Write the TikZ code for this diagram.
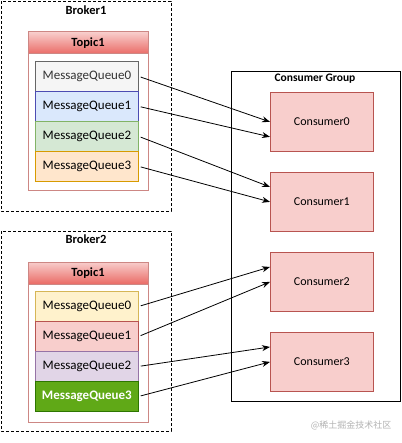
\documentclass[tikz,border=0pt]{standalone}
\usepackage{fontspec}
\setmainfont{Carlito}
\newfontfamily\cjk{Noto Sans CJK SC}
\usetikzlibrary{arrows.meta,calc}
\definecolor{redfill}{HTML}{F8CECC}
\definecolor{redline}{HTML}{B85450}
\definecolor{hdrbot}{HTML}{EA6B66}
\tikzset{
  broker/.style={draw=black, dash pattern=on 3pt off 2pt, line width=0.8pt},
  blabel/.style={font=\bfseries\fontsize{12.5}{14}\selectfont},
  topicbox/.style={draw=redline!70, line width=1pt, fill=white},
  hdr/.style={draw=redline!70, line width=1pt, top color=redfill, bottom color=hdrbot},
  queue/.style={minimum width=103pt, minimum height=30pt, inner sep=0pt, line width=0.8pt, font=\fontsize{13}{15}\selectfont, anchor=north west},
  cons/.style={draw=redline, fill=redfill, line width=0.8pt, minimum width=103pt, minimum height=59pt, inner sep=0pt, anchor=north west, font=\fontsize{12}{14}\selectfont},
  link/.style={-{Stealth[length=8pt,width=6pt]}, line width=0.8pt, shorten <=2pt},
}
\begin{document}
\begin{tikzpicture}[x=1pt,y=-1pt]
\useasboundingbox (0,0) rectangle (401,443);
% Broker1
\draw[broker] (1,1) rectangle (171,211);
\node[blabel] (b1) at (86,10) {Broker1};
\draw[topicbox] (28,32) rectangle (148,191);
\draw[hdr] (28,32) rectangle (148,54);
\node[blabel] (t1) at (88,43) {Topic1};
\node[queue, draw=black!60, fill=black!4, text=black!80] (a0) at (35,61) {MessageQueue0};
\node[queue, draw=blue!40!gray, fill={rgb,255:red,218;green,232;blue,252}] (a1) at (35,91) {MessageQueue1};
\node[queue, draw={rgb,255:red,130;green,179;blue,102}, fill={rgb,255:red,213;green,232;blue,212}] (a2) at (35,121) {MessageQueue2};
\node[queue, draw={rgb,255:red,215;green,155;blue,0}, fill={rgb,255:red,255;green,230;blue,204}] (a3) at (35,151) {MessageQueue3};
% Broker2
\draw[broker] (1,231) rectangle (171,431);
\node[blabel] (b2) at (86,239) {Broker2};
\draw[topicbox] (28,262) rectangle (148,422);
\draw[hdr] (28,262) rectangle (148,284);
\node[blabel] (t2) at (88,273) {Topic1};
\node[queue, draw={rgb,255:red,214;green,182;blue,86}, fill={rgb,255:red,255;green,242;blue,204}] (c0) at (35,291) {MessageQueue0};
\node[queue, draw=redline, fill=redfill] (c1) at (35,321) {MessageQueue1};
\node[queue, draw={rgb,255:red,150;green,115;blue,166}, fill={rgb,255:red,225;green,213;blue,231}] (c2) at (35,351) {MessageQueue2};
\node[queue, draw={rgb,255:red,45;green,118;blue,0}, fill={rgb,255:red,96;green,169;blue,23}, text=white, font=\bfseries\fontsize{13}{15}\selectfont] (c3) at (35,381) {MessageQueue3};
% Consumer group
\draw[line width=0.8pt] (231,71) rectangle (400,401);
\node[font=\bfseries\fontsize{11.5}{13}\selectfont] (cg) at (315,79) {Consumer Group};
\node[cons] (k0) at (270,92) {Consumer0};
\node[cons] (k1) at (270,172) {Consumer1};
\node[cons] (k2) at (270,252) {Consumer2};
\node[cons] (k3) at (270,332) {Consumer3};
% links
\draw[link] (a0.east) -- ($(k0.north west)!0.5!(k0.south west)$);
\draw[link] (a1.east) -- ($(k0.north west)!0.75!(k0.south west)$);
\draw[link] (a2.east) -- ($(k1.north west)!0.25!(k1.south west)$);
\draw[link] (a3.east) -- ($(k1.north west)!0.5!(k1.south west)$);
\draw[link] (c0.east) -- ($(k2.north west)!0.25!(k2.south west)$);
\draw[link] (c1.east) -- ($(k2.north west)!0.5!(k2.south west)$);
\draw[link] (c2.east) -- ($(k3.north west)!0.25!(k3.south west)$);
\draw[link] (c3.east) -- ($(k3.north west)!0.5!(k3.south west)$);
% watermark
\node[text=black!30, font=\cjk\fontsize{9}{10}\selectfont] (wm) at (351,425) {@稀土掘金技术社区};
\end{tikzpicture}
\end{document}
